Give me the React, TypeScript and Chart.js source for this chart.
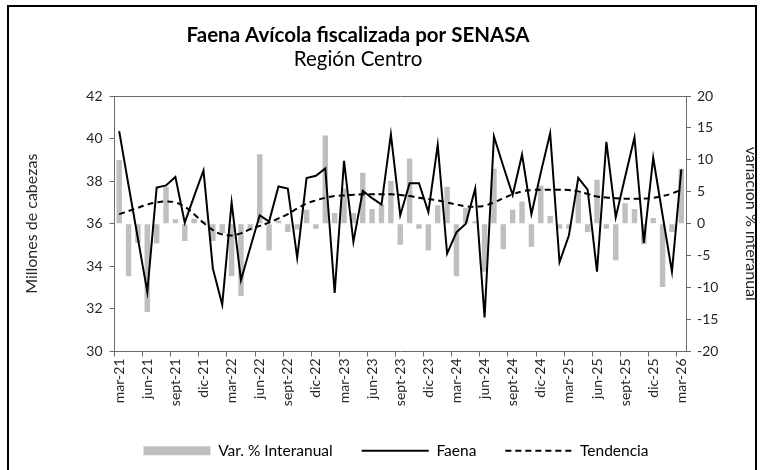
import React, { useEffect, useRef } from 'react';
import { Chart, registerables } from 'chart.js';

Chart.register(...registerables);

const TITLE = 'Faena Avícola fiscalizada por SENASA';
const SUBTITLE = 'Región Centro';
const LEFT_AXIS_TITLE = 'Millones de cabezas';
const RIGHT_AXIS_TITLE = 'variación % interanual';
const LEGEND_LABELS = ['Var. % Interanual', 'Faena', 'Tendencia'];

const months = [
  'mar-21', 'abr-21', 'may-21', 'jun-21', 'jul-21', 'ago-21', 'sept-21', 'oct-21', 'nov-21', 'dic-21',
  'ene-22', 'feb-22', 'mar-22', 'abr-22', 'may-22', 'jun-22', 'jul-22', 'ago-22', 'sept-22', 'oct-22', 'nov-22', 'dic-22',
  'ene-23', 'feb-23', 'mar-23', 'abr-23', 'may-23', 'jun-23', 'jul-23', 'ago-23', 'sept-23', 'oct-23', 'nov-23', 'dic-23',
  'ene-24', 'feb-24', 'mar-24', 'abr-24', 'may-24', 'jun-24', 'jul-24', 'ago-24', 'sept-24', 'oct-24', 'nov-24', 'dic-24',
  'ene-25', 'feb-25', 'mar-25', 'abr-25', 'may-25', 'jun-25', 'jul-25', 'ago-25', 'sept-25', 'oct-25', 'nov-25', 'dic-25',
  'ene-26', 'feb-26', 'mar-26',
];

// Millones de cabezas (eje izquierdo)
const faena = [
  40.35, 37.8, 35.3, 32.8, 37.7, 37.8, 38.2, 36.05, 37.3, 38.5,
  33.9, 32.2, 37.0, 33.35, 34.9, 36.4, 36.1, 37.75, 37.65, 34.4,
  38.15, 38.25, 38.6, 32.75, 38.95, 35.15, 37.55, 37.2, 36.9, 40.2,
  36.4, 37.9, 37.9, 36.55, 39.7, 34.6, 35.6, 36.0, 37.65, 31.6,
  40.1, 38.7, 37.35, 39.25, 36.45, 38.4, 40.25, 34.2, 35.45, 38.15,
  37.6, 33.75, 39.85, 36.3, 38.2, 40.05, 35.1, 39.1, 36.4, 33.75,
  38.55,
];

const tendencia = [
  36.45, 36.6, 36.75, 36.9, 37.0, 37.05, 37.0, 36.8, 36.45, 36.05,
  35.7, 35.5, 35.45, 35.55, 35.75, 35.9, 36.05, 36.25, 36.45, 36.72,
  36.95, 37.1, 37.22, 37.3, 37.33, 37.36, 37.38, 37.38, 37.38, 37.38,
  37.35, 37.3, 37.22, 37.16, 37.1, 37.0, 36.9, 36.82, 36.8, 36.85,
  37.0, 37.2, 37.38, 37.52, 37.58, 37.6, 37.6, 37.6, 37.58, 37.52,
  37.4, 37.28, 37.23, 37.2, 37.18, 37.17, 37.18, 37.22, 37.3, 37.42,
  37.6,
];

// Var. % interanual (eje derecho)
const varInteranual = [
  10.0, -8.2, -3.0, -13.8, -3.1, 5.8, 0.7, -2.7, 0.8, 0.4,
  -2.7, -1.5, -8.2, -11.3, -1.0, 10.9, -4.2, 0.5, -1.3, -0.9,
  2.2, -0.8, 13.8, 1.7, 5.5, 1.7, 8.0, 2.3, 3.0, 6.7,
  -3.3, 10.2, -0.8, -4.2, 2.9, 5.8, -8.2, 2.5, 0.4, -7.5,
  8.6, -4.0, 2.2, 3.5, -3.6, 6.0, 1.2, -0.8, -0.8, 4.9,
  -1.3, 6.9, -0.8, -5.7, 3.2, 2.3, -3.2, 0.9, -9.9, -1.3,
  8.6,
];

const FONT = 'Lato';
const TEXT = '#262626';
const AXIS = '#6b6b6b';
const GRAY = '#bfbfbf';

const framePlugin = {
  id: 'frameAndTitle',
  beforeDraw(chart: any) {
    const ctx = chart.ctx;
    ctx.save();
    ctx.fillStyle = '#ffffff';
    ctx.fillRect(0, 0, chart.width, chart.height);
    ctx.restore();
  },
  afterDraw(chart: any) {
    const ctx = chart.ctx;
    ctx.save();
    ctx.strokeStyle = '#000000';
    ctx.lineWidth = 2;
    ctx.strokeRect(8, 6, 748, 470);
    ctx.fillStyle = '#000000';
    ctx.textAlign = 'center';
    ctx.textBaseline = 'middle';
    ctx.font = `bold 20.5px ${FONT}`;
    ctx.fillText(TITLE, 358, 35);
    ctx.font = `20.5px ${FONT}`;
    ctx.fillText(SUBTITLE, 358, 59);
    ctx.restore();
  },
};

export default function App() {
  const canvasRef = useRef<HTMLCanvasElement | null>(null);

  useEffect(() => {
    if (!canvasRef.current) return;
    const chart = new Chart(canvasRef.current, {
      type: 'bar',
      data: {
        labels: months,
        datasets: [
          {
            type: 'bar',
            label: LEGEND_LABELS[0],
            data: varInteranual,
            yAxisID: 'y1',
            backgroundColor: GRAY,
            borderWidth: 0,
            barPercentage: 0.58,
            categoryPercentage: 1.0,
            order: 3,
          },
          {
            type: 'line',
            label: LEGEND_LABELS[1],
            data: faena,
            yAxisID: 'y',
            borderColor: '#000000',
            backgroundColor: '#000000',
            borderWidth: 2,
            pointRadius: 0,
            tension: 0,
            order: 1,
          },
          {
            type: 'line',
            label: LEGEND_LABELS[2],
            data: tendencia,
            yAxisID: 'y',
            borderColor: '#000000',
            backgroundColor: '#000000',
            borderWidth: 2,
            borderDash: [6, 4],
            pointRadius: 0,
            tension: 0.4,
            order: 2,
          },
        ] as any,
      },
      options: {
        responsive: false,
        animation: false,
        layout: { padding: { top: 96, left: 30, right: 0, bottom: 1.5 } },
        plugins: {
          title: { display: false },
          tooltip: { enabled: false },
          legend: {
            position: 'bottom',
            labels: {
              usePointStyle: true,
              pointStyleWidth: 67,
              boxHeight: 9,
              padding: 29,
              color: TEXT,
              font: { family: FONT, size: 15.5 },
              generateLabels: () => [
                { text: LEGEND_LABELS[0], fillStyle: GRAY, strokeStyle: GRAY, lineWidth: 0, pointStyle: 'rect', hidden: false, datasetIndex: 0 },
                { text: LEGEND_LABELS[1], fillStyle: 'rgba(0,0,0,0)', strokeStyle: '#000000', lineWidth: 2, pointStyle: 'line', hidden: false, datasetIndex: 1 },
                { text: LEGEND_LABELS[2], fillStyle: 'rgba(0,0,0,0)', strokeStyle: '#000000', lineWidth: 2, lineDash: [6, 4], pointStyle: 'line', hidden: false, datasetIndex: 2 },
              ] as any,
            },
          },
        },
        scales: {
          x: {
            offset: true,
            ticks: {
              autoSkip: false,
              maxRotation: 90,
              minRotation: 90,
              padding: 2,
              color: TEXT,
              font: { family: FONT, size: 14 },
              callback: (_v: any, i: number) => (i % 3 === 0 ? months[i] : ''),
            },
            grid: {
              offset: true,
              drawOnChartArea: false,
              tickLength: 5,
              tickColor: (c: any) => (c.index % 3 === 0 ? AXIS : 'rgba(0,0,0,0)'),
            },
            border: { color: AXIS, width: 1 },
            afterFit: (s: any) => { s.height = 62.5; },
          },
          y: {
            position: 'left',
            min: 30,
            max: 42,
            ticks: { stepSize: 2, padding: 7, color: TEXT, font: { family: FONT, size: 14 } },
            grid: {
              tickLength: 5,
              tickColor: AXIS,
              color: (c: any) => (c.tick && c.tick.value === 42 ? AXIS : 'rgba(0,0,0,0)'),
            },
            border: { color: AXIS, width: 1 },
            title: { display: true, text: LEFT_AXIS_TITLE, color: TEXT, font: { family: FONT, size: 16 }, padding: { top: -7.6, bottom: 0 } },
            afterFit: (s: any) => { s.width = 84.5; },
          },
          y1: {
            position: 'right',
            min: -20,
            max: 20,
            ticks: { stepSize: 5, padding: 6, color: TEXT, font: { family: FONT, size: 14 } },
            grid: { drawOnChartArea: false, tickLength: 5, tickColor: AXIS },
            border: { color: AXIS, width: 1 },
            title: { display: true, text: RIGHT_AXIS_TITLE, color: TEXT, font: { family: FONT, size: 16 }, padding: { top: 1.5, bottom: 0 } },
            afterFit: (s: any) => { s.width = 76; },
          },
        },
      } as any,
      plugins: [framePlugin],
    });
    let alive = true;
    if ((document as any).fonts && (document as any).fonts.ready) {
      (document as any).fonts.ready.then(() => { if (alive) chart.update(); });
    }
    return () => { alive = false; chart.destroy(); };
  }, []);

  return (
    <div style={{ position: 'absolute', left: 0, top: 0, width: 762, height: 470 }}>
      <canvas ref={canvasRef} width={762} height={470} style={{ display: 'block', width: 762, height: 470 }} />
    </div>
  );
}
